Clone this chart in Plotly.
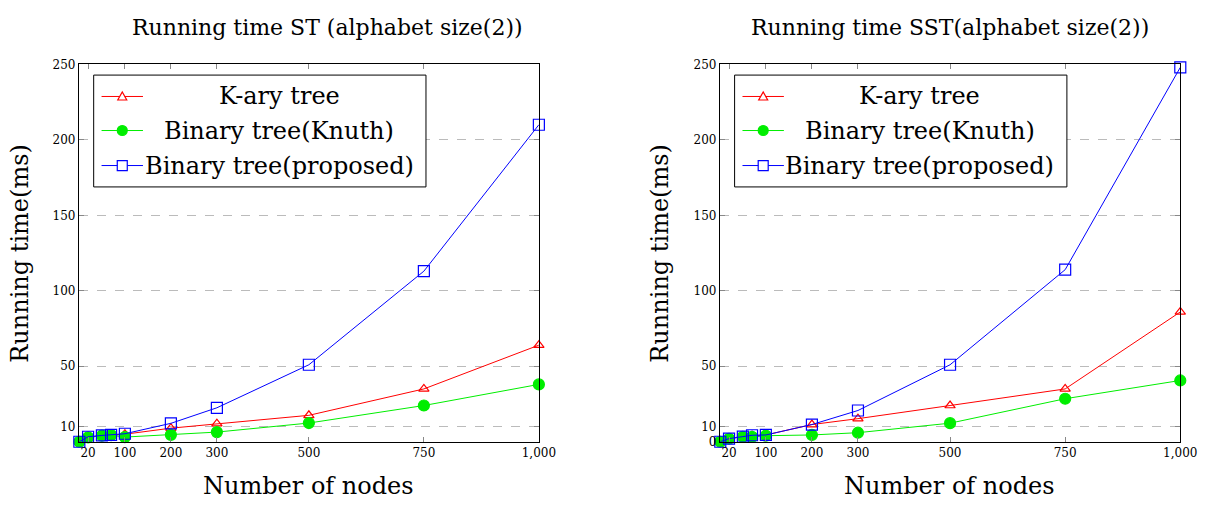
import plotly.graph_objects as go

# ---------------- data ----------------
nodes = [1, 20, 50, 70, 100, 200, 300, 500, 750, 1000]

st_kary = [0.2, 3.0, 4.0, 4.5, 5.0, 9.0, 12.0, 17.5, 35.0, 64.0]
st_knuth = [0.0, 2.9, 4.0, 4.4, 3.1, 4.6, 6.4, 12.4, 24.0, 38.0]
st_proposed = [0.0, 3.3, 4.2, 4.6, 5.3, 12.2, 22.5, 51.0, 113.0, 210.0]

sst_kary = [0.2, 2.2, 3.4, 4.0, 4.5, 11.4, 15.3, 24.0, 35.0, 86.0]
sst_knuth = [0.0, 2.0, 3.3, 3.2, 4.0, 4.5, 6.0, 12.3, 28.5, 40.6]
sst_proposed = [0.0, 2.1, 3.4, 4.3, 4.5, 11.4, 20.7, 51.0, 114.0, 248.0]

x_tickvals = [20, 100, 200, 300, 500, 750, 1000]
x_ticktext = ["20", "100", "200", "300", "500", "750", "1,000"]
y_tickvals_st = [10, 50, 100, 150, 200, 250]
y_tickvals_sst = [0, 10, 50, 100, 150, 200, 250]

series_names = ["K-ary tree", "Binary tree(Knuth)", "Binary tree(proposed)"]
series_colors = ["#ff0000", "#00ee00", "#0000ff"]
titles = ["Running time ST (alphabet size(2))", "Running time SST(alphabet size(2))"]

FONT = "DejaVu Serif"
W, H = 1218, 511

fig = go.Figure()

panels = [
    ("x", "y", [st_kary, st_knuth, st_proposed]),
    ("x2", "y2", [sst_kary, sst_knuth, sst_proposed]),
]
symbols = ["triangle-up-open", "circle", "square-open"]
sizes = [9, 11, 11]
for xa, ya, ser in panels:
    for vals, name, col, sym, sz in zip(ser, series_names, series_colors, symbols, sizes):
        fig.add_trace(go.Scatter(
            x=nodes, y=vals, name=name, xaxis=xa, yaxis=ya, mode="lines+markers",
            line=dict(color=col, width=1),
            marker=dict(symbol=sym, size=sz, color=col, line=dict(color=col, width=1.2)),
            showlegend=False, cliponaxis=False,
        ))

def px2x(p):
    return p / W

def px2y(p):
    return (H - p) / H

x_domains = [[px2x(80), px2x(546.5)], [px2x(730), px2x(1197)]]
y_domain = [px2y(447), px2y(59)]

axis_common = dict(
    showline=True, linecolor="black", linewidth=1, mirror="allticks",
    ticks="inside", ticklen=5, tickcolor="#888888",
    tickfont=dict(family=FONT, size=12, color="black"),
    zeroline=False,
)
for i, (xk, yk) in enumerate([("xaxis", "yaxis"), ("xaxis2", "yaxis2")]):
    yvals = y_tickvals_st if i == 0 else y_tickvals_sst
    fig.layout[xk] = dict(
        domain=x_domains[i], range=[0, 1000], tickvals=x_tickvals, ticktext=x_ticktext,
        showgrid=False, anchor="y" if i == 0 else "y2", **axis_common,
    )
    fig.layout[yk] = dict(
        domain=y_domain, range=[0, 250], tickvals=yvals,
        showgrid=True, gridcolor="#bbbbbb", griddash="dash", gridwidth=1,
        anchor="x" if i == 0 else "x2", **axis_common,
    )

annotations = []
shapes = []
for i in range(2):
    off = 0 if i == 0 else 650
    annotations.append(dict(text=titles[i], x=px2x([332, 963][i]), y=px2y(21), xref="paper", yref="paper",
                            showarrow=False, font=dict(family=FONT, size=22, color="black"),
                            xanchor="center", yanchor="middle"))
    annotations.append(dict(text="Number of nodes", x=px2x([313, 963][i]), y=px2y(492), xref="paper", yref="paper",
                            showarrow=False, font=dict(family=FONT, size=24, color="black"),
                            xanchor="center", yanchor="middle"))
    annotations.append(dict(text="Running time(ms)", x=px2x([20, 669][i]), y=px2y(253), xref="paper", yref="paper",
                            showarrow=False, textangle=-90, font=dict(family=FONT, size=24, color="black"),
                            xanchor="center", yanchor="middle"))
    shapes.append(dict(type="rect", xref="paper", yref="paper",
                       x0=px2x(95 + off), x1=px2x(432 + off), y0=px2y(185), y1=px2y(70),
                       line=dict(color="black", width=1), fillcolor="white", layer="above"))
    for j, (name, col) in enumerate(zip(series_names, series_colors)):
        yc = [92, 127, 163][j]
        shapes.append(dict(type="line", xref="paper", yref="paper",
                           x0=px2x(103 + off), x1=px2x(145 + off), y0=px2y(yc), y1=px2y(yc),
                           line=dict(color=col, width=1), layer="above"))
        mx, my = px2x(124 + off), px2y(yc)
        common = dict(xref="paper", yref="paper", xsizemode="pixel", ysizemode="pixel",
                      xanchor=mx, yanchor=my, line=dict(color=col, width=1.2), layer="above")
        if j == 0:
            shapes.append(dict(type="path", path="M -4.5,-3.5 L 4.5,-3.5 L 0,4.5 Z",
                               fillcolor="white", **common))
        elif j == 1:
            shapes.append(dict(type="circle", x0=-5, x1=5, y0=-5, y1=5, fillcolor=col, **common))
        else:
            shapes.append(dict(type="rect", x0=-5, x1=5, y0=-5, y1=5, fillcolor="white", **common))
        annotations.append(dict(text=name, x=px2x(283 + off), y=px2y(yc), xref="paper", yref="paper",
                                showarrow=False, font=dict(family=FONT, size=24, color="black"),
                                xanchor="center", yanchor="middle"))

fig.update_layout(
    width=W, height=H, margin=dict(l=0, r=0, t=0, b=0),
    paper_bgcolor="white", plot_bgcolor="white",
    annotations=annotations, shapes=shapes, showlegend=False,
)

fig.write_html("out.html", config={"displayModeBar": False},
               post_script="document.body.style.margin='0';")
